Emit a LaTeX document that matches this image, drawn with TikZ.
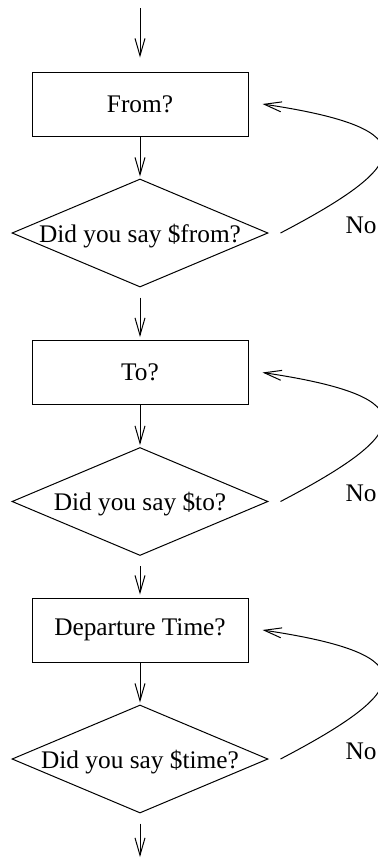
\documentclass[tikz,border=0pt]{standalone}
\usepackage{fontspec}
\setmainfont{Liberation Serif}
\usetikzlibrary{shapes.geometric,arrows.meta}

\tikzset{
    question/.style={draw, rectangle, minimum width=162pt, minimum height=48pt, inner sep=0pt},
    decision/.style={draw, diamond, minimum width=192pt, minimum height=81pt, inner sep=0pt, text depth=0pt},
    answer/.style={anchor=base west, inner sep=0pt},
    flow/.style={-{Straight Barb[length=13pt,width=7.5pt]}},
}

\begin{document}
\begin{tikzpicture}[x=0.75pt, y=0.75pt, line width=0.75pt, font=\fontsize{19pt}{22pt}\selectfont]

        % Frame
        \clip (0,0) rectangle (378,-865);

        % Ends
        \coordinate (start) at (140,-8);
        \coordinate (stop) at (140,-857);

        % Questions, checks and the No loops
        \foreach \y/\ask/\check [count=\i] in {-104/From?/from, -372.5/To?/to, -630/Departure Time?/time} {
            \node[question] (b\i) at (140,\y) {\ask};
            \node[decision] (d\i) at (140,\y-129) {\makebox[0pt]{Did you say \$\check?}};
            \draw[flow, shorten >=1.5pt] (b\i) -- (d\i);
            \draw[flow] ([xshift=9pt]d\i.east) .. controls +(130,68) and +(168,-25) .. ([xshift=10.5pt]b\i.east);
            \node[answer] (n\i) at (345,\y-129) {No};
        }

        % Flow down
        \draw[flow, shorten >=10.5pt] (start) -- (b1);
        \draw[flow, shorten <=7.5pt, shorten >=2.25pt] (d1) -- (b2);
        \draw[flow, shorten <=7.5pt, shorten >=2.25pt] (d2) -- (b3);
        \draw[flow, shorten <=7.5pt] (d3) -- (stop);

\end{tikzpicture}
\end{document}
